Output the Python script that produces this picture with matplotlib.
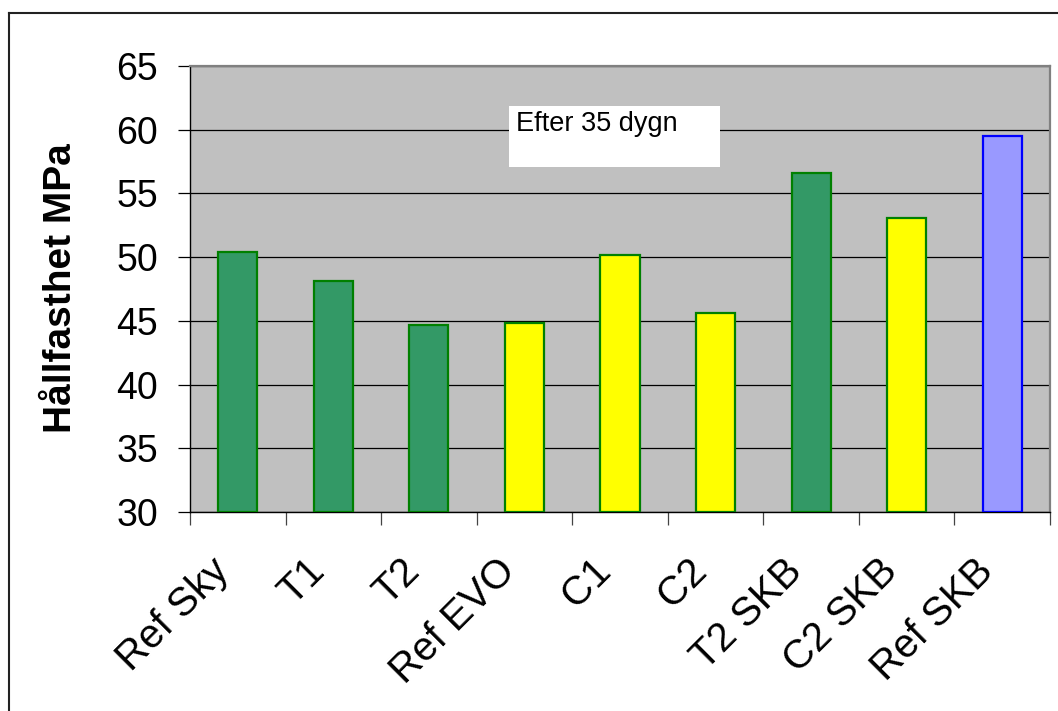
import matplotlib
matplotlib.use("Agg")
import matplotlib.pyplot as plt
from matplotlib.lines import Line2D
from matplotlib.patches import Rectangle
from matplotlib.transforms import ScaledTranslation
import numpy as np

plt.rcParams['font.family'] = ['Liberation Sans', 'DejaVu Sans']

categories = ["Ref Sky", "T1", "T2", "Ref EVO", "C1", "C2", "T2 SKB", "C2 SKB", "Ref SKB"]
values = [50.4, 48.1, 44.7, 44.8, 50.2, 45.6, 56.6, 53.1, 59.5]
fill_colors = ["#339966", "#339966", "#339966", "#FFFF00", "#FFFF00", "#FFFF00",
               "#339966", "#FFFF00", "#9999FF"]
edge_colors = ["#008000", "#008000", "#008000", "#008000", "#008000", "#008000",
               "#008000", "#008000", "#0000FF"]
y_ticks = [30, 35, 40, 45, 50, 55, 60, 65]
y_label = "Hållfasthet MPa"
annotation = "Efter 35 dygn"

W, H = 1058, 711
fig = plt.figure(figsize=(W / 100, H / 100), dpi=100)
fig.patch.set_facecolor("white")

def fx(px):
    return px / W

def fy(py):
    return 1 - py / H

ax = fig.add_axes([fx(190), fy(512), fx(1050) - fx(190), fy(66) - fy(512)])
ax.set_facecolor("#C0C0C0")

x = np.arange(len(categories))
ax.bar(x, [v - 30 for v in values], bottom=30, width=0.41, color=fill_colors,
       edgecolor=edge_colors, linewidth=1.6, zorder=3)

ax.set_xlim(-0.5, len(categories) - 0.5)
ax.set_ylim(30, 65)
ax.set_yticks(y_ticks)
ax.set_yticklabels([str(t) for t in y_ticks], fontsize=27)
ax.yaxis.grid(True, color="black", linewidth=0.9, zorder=1)
ax.set_axisbelow(True)

ax.tick_params(axis="y", direction="out", length=9, width=0.9, pad=14, colors="black")

# x ticks at category boundaries
ax.set_xticks(np.arange(-0.5, len(categories), 1.0))
ax.set_xticklabels([])
ax.tick_params(axis="x", which="major", direction="out", length=9, width=0.9, color="#444444")

# rotated category labels
offset = ScaledTranslation(-15 / 100, -53 / 100, fig.dpi_scale_trans)
trans = ax.get_xaxis_transform() + offset
for xi, name in zip(x, categories):
    ax.text(xi, 0, name, transform=trans, rotation=45, rotation_mode="anchor",
            ha="right", va="center", fontsize=29, clip_on=False)

for side in ["left", "bottom"]:
    ax.spines[side].set_color("black")
    ax.spines[side].set_linewidth(1.0)
for side in ["top", "right"]:
    ax.spines[side].set_color("#808080")
    ax.spines[side].set_linewidth(1.6)

fig.text(fx(61), fy(288), y_label, rotation=90, ha="center", va="center",
         fontsize=28, fontweight="bold")

# annotation box
fig.patches.append(Rectangle((fx(509), fy(167)), fx(720) - fx(509), fy(106) - fy(167),
                             transform=fig.transFigure, facecolor="white",
                             edgecolor="none", zorder=5))
fig.text(fx(516), fy(111), annotation, ha="left", va="top", fontsize=19.5, zorder=6)

# outer border (top and left)
fig.lines.append(Line2D([fx(9), 1.01], [fy(13), fy(13)], transform=fig.transFigure,
                        color="#222222", linewidth=1.5))
fig.lines.append(Line2D([fx(9), fx(9)], [fy(13), -0.01], transform=fig.transFigure,
                        color="#222222", linewidth=1.5))

fig.savefig("out.png", dpi=100, facecolor="white")
